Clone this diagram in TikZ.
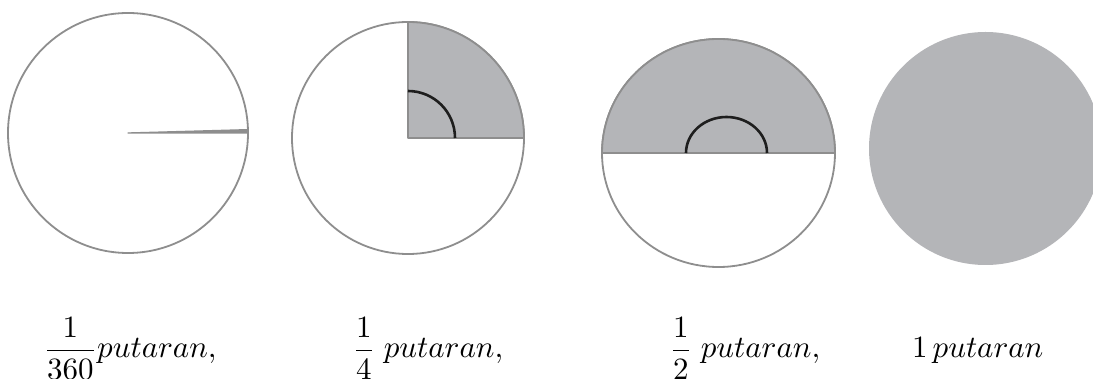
\documentclass[tikz,border=0pt]{standalone}
\usepackage{amsmath}
\usepackage{graphicx}
\definecolor{rim}{HTML}{8E8E8E}
\definecolor{greyfill}{HTML}{B4B5B8}
\definecolor{inkc}{HTML}{1E1E1E}
\tikzset{
  rimline/.style={draw=rim, line width=1.8pt, line join=round},
  anglearc/.style={draw=inkc, line width=2.6pt},
  lbl/.style={anchor=base west, inner sep=0pt, outer sep=0pt, text=black}
}
\newcommand{\bigtxt}[1]{\scalebox{3.1}{\normalsize #1}}
\begin{document}
\begin{tikzpicture}[x=1pt,y=-1pt]
\path[use as bounding box, clip] (0,0) rectangle (1093,379);
\fill[white] (0,0) rectangle (1093,379);

% circle 1: 1/360 turn
\coordinate (c1) at (128,133);
\draw[rimline] (c1) circle[radius=120];
\filldraw[rimline, line width=1.3pt, fill=rim] (c1) -- ++(0:120)
  arc[start angle=0, end angle=-1.6, radius=120] -- cycle;

% circle 2: 1/4 turn
\coordinate (c2) at (408,138);
\draw[rimline] (c2) circle[radius=116];
\filldraw[rimline, fill=greyfill] (c2) -- ++(0:116)
  arc[start angle=0, end angle=-90, radius=116] -- cycle;
\draw[anglearc] (c2) ++(0:47) arc[start angle=0, end angle=-90, radius=47];

% circle 3: 1/2 turn
\coordinate (c3) at (718.5,153);
\coordinate (a3) at (726.5,153);
\draw[rimline] (c3) ellipse[x radius=116.5, y radius=114];
\filldraw[rimline, fill=greyfill] (c3) ++(116.5,0)
  arc[start angle=0, end angle=-180, x radius=116.5, y radius=114] -- cycle;
\draw[anglearc] (a3) ++(40.5,0)
  arc[start angle=0, end angle=-180, x radius=40.5, y radius=36];

% circle 4: full turn
\coordinate (c4) at (985.5,148.5);
\fill[greyfill] (c4) circle[radius=116.5];

% labels
\node[lbl] (t1) at (43.3,358) {\bigtxt{$\dfrac{1}{360}putaran,$}};
\node[lbl] (t2) at (352.3,358) {\bigtxt{$\dfrac{1}{4}\;putaran,$}};
\node[lbl] (t3) at (669.3,358) {\bigtxt{$\dfrac{1}{2}\;putaran,$}};
\node[lbl] (t4) at (912,358) {\bigtxt{$1\,putaran$}};
\end{tikzpicture}
\end{document}
